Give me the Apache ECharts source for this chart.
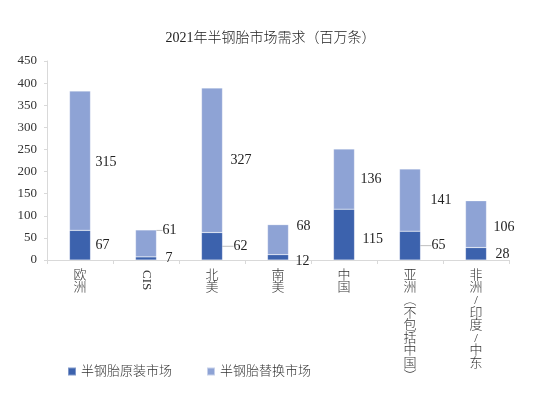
<!DOCTYPE html>
<html><head><meta charset="utf-8">
<script src="https://cdn.jsdelivr.net/npm/echarts@6/dist/echarts.min.js"></script>
<style>html,body{margin:0;padding:0;background:#fff}#c{width:541px;height:397px}</style>
</head><body><div id="c"></div>
<script>
const title = '2021年半钢胎市场需求（百万条）';
const categories = ['欧洲', 'CIS', '北美', '南美', '中国', '亚洲︵不包括中国︶', '非洲/印度/中东'];
const seriesNames = ['半钢胎原装市场', '半钢胎替换市场'];
const oeValues = [67, 7, 62, 12, 115, 65, 28];
const replValues = [315, 61, 327, 68, 136, 141, 106];
const yTicks = {min: 0, max: 450, interval: 50};

// label style tweaks (offset from bar edge, vertical shift, leader line)
const oeLabelStyle = [[5,0,0],[9,0,0],[11,0,1],[7,4,0],[8,5,0],[11,0,1],[9,1,0]];
const replLabelStyle = [[5,2,0],[6,-13,1],[8,0,0],[8,-13,0],[6,0,0],[10,0,0],[7,3,0]];

const FONT = '"Liberation Serif", "Noto Sans CJK SC", serif';
const chart = echarts.init(document.getElementById('c'));

function mkData(vals, st) {
  return vals.map((v, i) => ({
    value: v,
    label: {distance: st[i][0]},
    labelLine: {show: !!st[i][2]}
  }));
}
function mkLayout(st) {
  return function (p) { return {dy: st[p.dataIndex][1]}; };
}

chart.setOption({
  animation: false,
  textStyle: {fontFamily: FONT},
  title: {
    text: title, left: 'center', top: 26,
    textStyle: {fontFamily: FONT, fontSize: 14, fontWeight: 300, color: '#222'}
  },
  legend: {
    left: 62, top: 360, itemWidth: 8, itemHeight: 8, itemGap: 34,
    icon: 'rect',
    textStyle: {fontFamily: FONT, fontSize: 13, fontWeight: 300, color: '#333'},
    data: seriesNames
  },
  grid: {left: 47, right: 32, top: 61, bottom: 137},
  xAxis: [{
    type: 'category', data: categories,
    axisLine: {lineStyle: {color: '#d9d9d9'}},
    axisTick: {show: true, length: 4, lineStyle: {color: '#d9d9d9'}},
    axisLabel: {
      interval: 0, margin: 9, color: '#333', fontFamily: FONT, fontSize: 13, fontWeight: 300, lineHeight: 12.6,
      formatter: v => v === 'CIS' ? '' : v.split('').join('\n')
    }
  }, {
    type: 'category', data: categories, position: 'bottom',
    axisLine: {show: false}, axisTick: {show: false},
    axisLabel: {
      interval: 0, margin: 10, rotate: -90, color: '#333', fontFamily: FONT, fontSize: 13,
      formatter: v => v === 'CIS' ? v : ''
    }
  }],
  yAxis: {
    type: 'value', min: yTicks.min, max: yTicks.max, interval: yTicks.interval,
    axisLine: {show: true, lineStyle: {color: '#d9d9d9'}},
    axisTick: {show: true, length: 3, lineStyle: {color: '#d9d9d9'}},
    splitLine: {show: false},
    axisLabel: {margin: 10, color: '#333', fontFamily: FONT, fontSize: 13}
  },
  series: [{
    name: seriesNames[0], type: 'bar', stack: 't', barWidth: 21,
    data: mkData(oeValues, oeLabelStyle),
    itemStyle: {color: '#3c62ad', borderColor: 'rgba(255,255,255,0.35)', borderWidth: 0.5},
    label: {show: true, position: 'right', color: '#222', fontFamily: FONT, fontSize: 14},
    labelLine: {lineStyle: {color: '#bfbfbf', width: 1}},
    labelLayout: mkLayout(oeLabelStyle)
  }, {
    name: seriesNames[1], type: 'bar', stack: 't', barWidth: 21,
    data: mkData(replValues, replLabelStyle),
    itemStyle: {color: '#8ea3d5', borderColor: 'rgba(255,255,255,0.5)', borderWidth: 0.5},
    label: {show: true, position: 'right', color: '#222', fontFamily: FONT, fontSize: 14},
    labelLine: {lineStyle: {color: '#bfbfbf', width: 1}},
    labelLayout: mkLayout(replLabelStyle)
  }]
});
</script></body></html>
